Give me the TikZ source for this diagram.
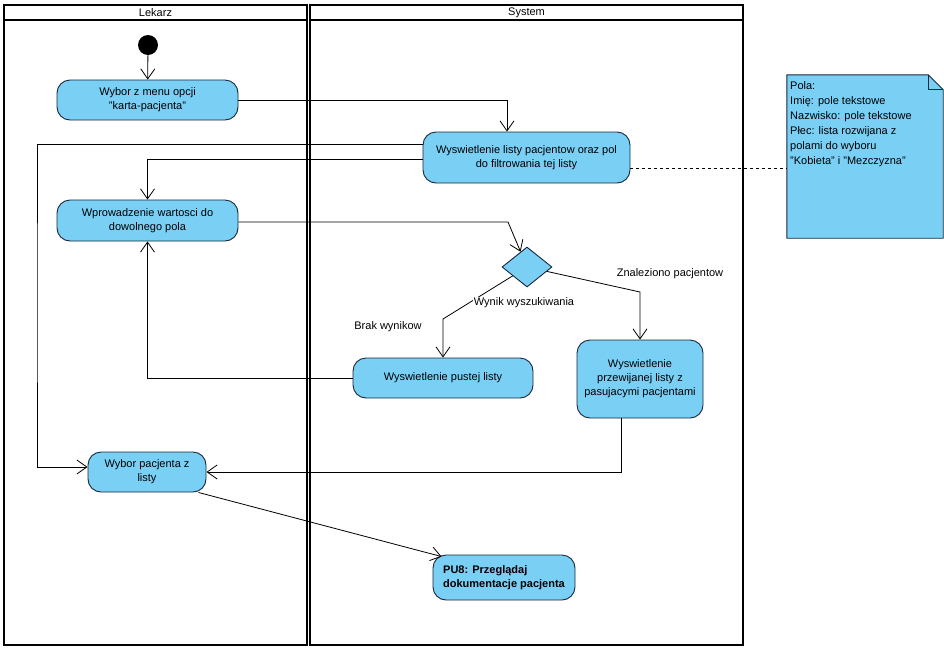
\documentclass[tikz,border=0pt]{standalone}
\usepackage{fontspec}
\setmainfont{Liberation Sans}
\usetikzlibrary{shapes.geometric,arrows.meta}
\definecolor{actfill}{RGB}{122,207,245}
\definecolor{actdraw}{RGB}{25,40,60}
\begin{document}
\begin{tikzpicture}[x=1pt,y=-1pt,
  font=\fontsize{11}{14}\selectfont,
  act/.style={rectangle, rounded corners=13pt, draw=actdraw, fill=actfill, line width=0.9pt, align=center, inner sep=0pt},
  arr/.style={-{Straight Barb[length=10pt,width=14pt]}, line width=0.8pt},
  conn/.style={line width=0.8pt},
  lane/.style={draw, line width=2pt},
  lbl/.style={inner sep=1pt}]
\useasboundingbox (0,0) rectangle (944,651);
\fill[white] (0,0) rectangle (944,651);
% swimlanes
\draw[lane] (4,5) rectangle (307,645);
\draw[lane] (4,20) -- (307,20);
\node (hL) at (155.5,12.5) {Lekarz};
\draw[lane] (310,5) rectangle (743,645);
\draw[lane] (310,20) -- (743,20);
\node (hS) at (526.5,12.5) {System};
% nodes
\node[circle, fill=black, minimum size=20pt, inner sep=0pt] (init) at (148,45) {};
\node[act, minimum width=181pt, minimum height=40pt] (a1) at (147.5,100) {Wybor z menu opcji\\"karta-pacjenta"};
\node[act, minimum width=207pt, minimum height=51pt] (a2) at (526.5,157.5) {Wyswietlenie listy pacjentow oraz pol\\do filtrowania tej listy};
\node[act, minimum width=181pt, minimum height=41pt] (a3) at (147.5,220.5) {Wprowadzenie wartosci do\\dowolnego pola};
\node[diamond, draw=actdraw, fill=actfill, line width=0.9pt, minimum width=50pt, minimum height=40pt, inner sep=0pt] (d) at (527,267) {};
\node[act, minimum width=180pt, minimum height=40pt] (a4) at (443,378) {Wyswietlenie pustej listy};
\node[act, minimum width=126pt, minimum height=78pt] (a5) at (640,379) {Wyswietlenie\\przewijanej listy z\\pasujacymi pacjentami};
\node[act, minimum width=118pt, minimum height=40pt] (a6) at (147,472) {Wybor pacjenta z\\listy};
\node[act, minimum width=142pt, minimum height=45pt, align=left, font=\fontsize{11}{14}\selectfont\bfseries] (a7) at (504,577.5) {PU8: Przeglądaj\\dokumentacje pacjenta};
% note
\node[minimum width=156pt, minimum height=163pt, inner sep=0pt] (n) at (865,156.5) {};
\draw[fill=actfill, draw=actdraw, line width=0.9pt] (n.north west) -- ([xshift=-15pt]n.north east) -- ([yshift=-15pt]n.north east) -- (n.south east) -- (n.south west) -- cycle;
\draw[draw=actdraw, line width=0.9pt] ([xshift=-15pt]n.north east) |- ([yshift=-15pt]n.north east);
\node[anchor=north west, align=left, inner sep=0pt, font=\fontsize{11}{15}\selectfont] (nt) at (790,81) {Pola:\\Imię: pole tekstowe\\Nazwisko: pole tekstowe\\Płec: lista rozwijana z\\polami do wyboru\\"Kobieta" i "Mezczyzna"};
% coordinates
\coordinate (c1) at (37,300);
\coordinate (c2) at (508,222);
\coordinate (c3) at (640,292);
\coordinate (c4) at (443,319);
% connectors
\draw[arr] (init) -- (a1);
\draw[arr] (a1.east) -| ([xshift=-19.5pt]a2.north);
\draw[arr] ([yshift=13.5pt]a2.west) -| (c1) |- ([yshift=5pt]a6.west);
\draw[arr] ([yshift=-1.5pt]a2.west) -| (a3.north);
\draw[arr] ([yshift=-1.5pt]a3.east) -- (c2) -- (d);
\draw[arr] (d) -- (c3) -- (a5.north);
\draw[arr] (d) -- (c4) -- (a4.north);
\draw[arr] (a4.west) -| (a3.south);
\draw[arr] ([xshift=-19pt]a5.south) |- (a6.east);
\draw[arr] ([xshift=-8pt]a6.south east) -- ([xshift=9pt,yshift=-2pt]a7.north west);
\draw[conn, dashed] ([yshift=-10.5pt]a2.east) -- ([yshift=-10.5pt]a2.east -| n.west);
% labels
\node[lbl, fill=white] (lw) at (524,303) {Wynik wyszukiwania};
\node[lbl] (lb) at (388,327) {Brak wynikow};
\node[lbl] (lz) at (670,274) {Znaleziono pacjentow};
\end{tikzpicture}
\end{document}
